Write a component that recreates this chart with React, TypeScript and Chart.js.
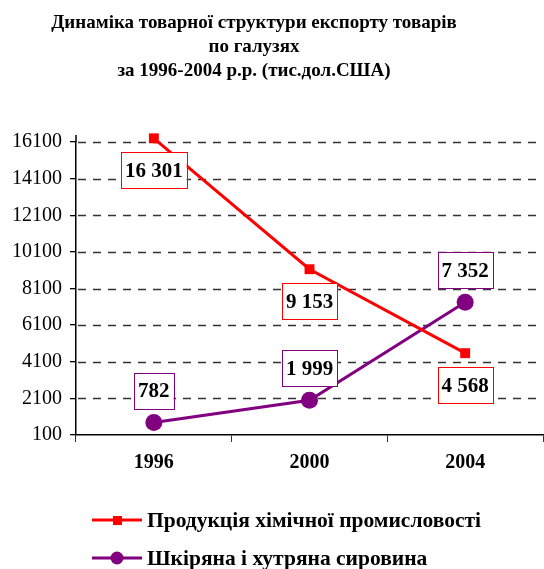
import React, { useEffect, useRef } from 'react';
import { Chart, registerables } from 'chart.js';
Chart.register(...registerables);

const years = ['1996', '2000', '2004'];
const chemical = [16301, 9153, 4568];
const leather = [782, 1999, 7352];
const chemicalLabels = ['16 301', '9 153', '4 568'];
const leatherLabels = ['782', '1 999', '7 352'];
const yTicks = [100, 2100, 4100, 6100, 8100, 10100, 12100, 14100, 16100];
const titleLines = [
  'Динаміка товарної структури експорту товарів',
  'по галузях',
  'за 1996-2004 р.р. (тис.дол.США)',
];
const seriesNames = ['Продукція хімічної промисловості', 'Шкіряна і хутряна сировина'];

const RED = '#FF0000';
const PURPLE = '#800080';
const FONT = '"Liberation Serif", "Times New Roman", serif';

const labelPlugin = {
  id: 'boxLabels',
  beforeDatasetsDraw(chart: any) {
    const ctx = chart.ctx;
    const y = chart.scales.y;
    const area = chart.chartArea;
    ctx.save();
    ctx.strokeStyle = '#333';
    ctx.lineWidth = 1.3;
    ctx.setLineDash([8, 7]);
    yTicks.forEach((v, i) => {
      if (i === 0) return;
      const py = Math.round(y.getPixelForValue(v)) + 0.5;
      ctx.beginPath();
      ctx.moveTo(area.left + 2, py);
      ctx.lineTo(area.right, py);
      ctx.stroke();
    });
    ctx.setLineDash([]);
    ctx.strokeStyle = '#000';
    ctx.lineWidth = 1.5;
    ctx.beginPath();
    ctx.moveTo(area.left, area.top);
    ctx.lineTo(area.left, area.top - 7);
    ctx.stroke();
    ctx.restore();
  },
  afterDatasetsDraw(chart: any) {
    const ctx = chart.ctx;
    const sets = [
      { idx: 0, labels: chemicalLabels, color: RED, dy: 32 },
      { idx: 1, labels: leatherLabels, color: PURPLE, dy: -32 },
    ];
    ctx.save();
    ctx.font = `bold 21px ${FONT}`;
    ctx.textAlign = 'center';
    ctx.textBaseline = 'middle';
    sets.forEach((s) => {
      const meta = chart.getDatasetMeta(s.idx);
      meta.data.forEach((pt: any, i: number) => {
        const text = s.labels[i];
        const w = ctx.measureText(text).width + 8;
        const h = 36;
        const cx = pt.x;
        const cy = pt.y + s.dy;
        ctx.fillStyle = '#ffffff';
        ctx.fillRect(cx - w / 2, cy - h / 2, w, h);
        ctx.strokeStyle = s.color;
        ctx.lineWidth = 1;
        ctx.strokeRect(Math.round(cx - w / 2) + 0.5, Math.round(cy - h / 2) + 0.5, Math.round(w), h);
        ctx.fillStyle = '#000000';
        ctx.fillText(text, cx, cy + 1);
      });
    });
    ctx.restore();
  },
  afterDraw(chart: any) {
    const ctx = chart.ctx;
    ctx.save();
    // title
    ctx.font = `bold 19px ${FONT}`;
    ctx.fillStyle = '#000';
    ctx.textAlign = 'center';
    ctx.textBaseline = 'alphabetic';
    titleLines.forEach((t, i) => ctx.fillText(t, 254, 28 + i * 24));
    // legend
    const rows = [
      { name: seriesNames[0], color: RED, style: 'rect', y: 520 },
      { name: seriesNames[1], color: PURPLE, style: 'circle', y: 558 },
    ];
    rows.forEach((r) => {
      ctx.strokeStyle = r.color;
      ctx.lineWidth = 3;
      ctx.beginPath();
      ctx.moveTo(92, r.y);
      ctx.lineTo(142, r.y);
      ctx.stroke();
      ctx.fillStyle = r.color;
      if (r.style === 'rect') {
        ctx.fillRect(113, r.y - 4, 9, 9);
      } else {
        ctx.beginPath();
        ctx.arc(117, r.y, 6.5, 0, Math.PI * 2);
        ctx.fill();
      }
      ctx.fillStyle = '#000';
      ctx.font = `bold 21.5px ${FONT}`;
      ctx.textAlign = 'left';
      ctx.textBaseline = 'middle';
      ctx.fillText(r.name, 147, r.y + 1);
    });
    ctx.restore();
  },
};

export default function App() {
  const ref = useRef<HTMLCanvasElement>(null);
  useEffect(() => {
    document.body.style.margin = '0';
    const chart = new Chart(ref.current!, {
      type: 'line',
      data: {
        labels: years,
        datasets: [
          {
            label: seriesNames[0],
            data: chemical,
            borderColor: RED,
            backgroundColor: RED,
            borderWidth: 3,
            pointStyle: 'rect',
            pointRadius: 7,
            pointBorderWidth: 0,
            clip: false as any,
          },
          {
            label: seriesNames[1],
            data: leather,
            borderColor: PURPLE,
            backgroundColor: PURPLE,
            borderWidth: 3,
            pointStyle: 'circle',
            pointRadius: 8.5,
            pointBorderWidth: 0,
            clip: false as any,
          },
        ],
      },
      options: {
        responsive: false,
        animation: false,
        layout: { autoPadding: false, padding: { top: 142, right: 1, bottom: 94, left: 0 } },
        plugins: {
          legend: { display: false },
          title: { display: false },
          tooltip: { enabled: false },
        },
        scales: {
          x: {
            offset: true,
            grid: {
              offset: true,
              drawOnChartArea: false,
              drawTicks: true,
              tickLength: 7,
              color: '#333',
            },
            border: { color: '#000', width: 1.5 },
            ticks: {
              color: '#000',
              font: { family: FONT, size: 20, weight: 'bold' },
              padding: 9,
            },
            afterFit(scale: any) {
              scale.height = 40;
              scale.paddingLeft = 0;
              scale.paddingRight = 0;
            },
          },
          y: {
            min: 100,
            max: 16100,
            afterBuildTicks(scale: any) {
              scale.ticks = yTicks.map((v) => ({ value: v }));
            },
            afterFit(scale: any) {
              scale.width = 76;
            },
            grid: {
              drawOnChartArea: false,
              color: '#000',
              tickLength: 6,
              lineWidth: 1.3,
            },
            border: { color: '#000', width: 1.5 },
            ticks: {
              color: '#000',
              font: { family: FONT, size: 20 },
              padding: 8,
              callback: (v: any) => String(v),
            },
          } as any,
        },
      },
      plugins: [labelPlugin],
    });
    return () => chart.destroy();
  }, []);
  return <canvas ref={ref} width={544} height={569} style={{ display: 'block' }} />;
}
